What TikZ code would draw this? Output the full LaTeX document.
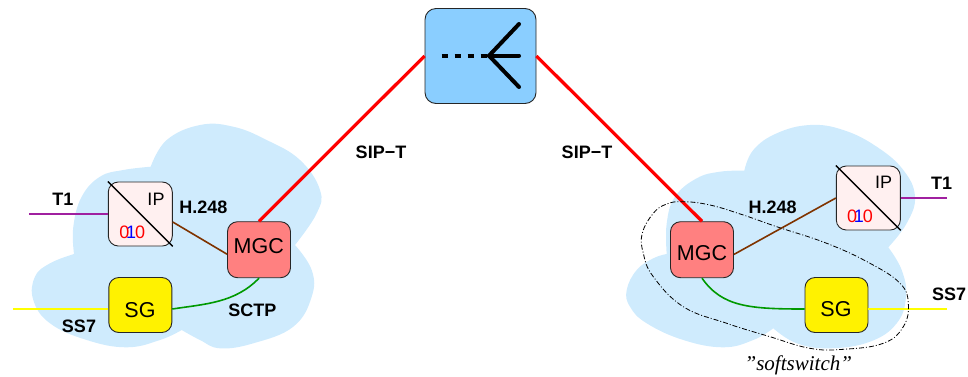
\documentclass[tikz,border=0pt]{standalone}
\usepackage{fontspec}
\setmainfont{Liberation Sans}
\newfontfamily\serifit[Ligatures=TeX]{Liberation Serif}
\usetikzlibrary{calc}
\definecolor{cloudc}{HTML}{CFEBFD}
\definecolor{topc}{HTML}{8ACEFF}
\definecolor{mgcc}{HTML}{FF8080}
\definecolor{ipc}{HTML}{FFF0F0}
\definecolor{h248c}{HTML}{7F3300}
\definecolor{sctpc}{HTML}{009900}
\definecolor{t1c}{HTML}{A020A0}
\definecolor{ss7c}{HTML}{FFFF00}
\tikzset{
  x=1pt,y=-1pt,
  cloud/.style={fill=cloudc,draw=none},
  lobe/.style={smooth,tension=0.7},
  box/.style={draw=black!85,line width=0.9pt,rounded corners=10pt,inner sep=0pt,minimum width=#1},
  mgc/.style={box=63pt,minimum height=56pt,fill=mgcc},
  sgbox/.style={box=63pt,minimum height=55pt,fill=yellow},
  ipbox/.style={box=64pt,minimum height=64pt,fill=ipc},
  proto/.style={font=\fontsize{18}{20}\selectfont\bfseries,inner sep=0pt},
  big/.style={font=\fontsize{21.5}{24}\selectfont,inner sep=0pt},
  ipt/.style={font=\fontsize{18}{20}\selectfont,inner sep=0pt},
  bits/.style={font=\fontsize{18}{20}\selectfont,inner sep=0pt},
  sip/.style={red,line width=3.2pt},
  h248w/.style={h248c,line width=1.6pt},
  sctpw/.style={sctpc,line width=1.6pt},
  t1w/.style={t1c,line width=1.6pt},
  ss7w/.style={ss7c,line width=1.6pt},
  diag/.style={black,line width=1.4pt},
  fanw/.style={black,line width=4pt,line cap=round},
}
\newcommand{\zeroten}{\makebox[0pt][l]{\hspace{0.556em}\hspace{-0.18em}\textcolor{blue}{1}}\textcolor{red}{0\hspace{-0.18em}\phantom{1}\hspace{-0.05em}0}}
\begin{document}
\begin{tikzpicture}
\useasboundingbox (0,0) rectangle (968,376);
% clouds
\fill[cloud]
  plot[lobe] coordinates {(150.7,166.7)(166.7,140)(200,125)(233.3,126.7)(266.7,140)(300,160)(320,190)(316.7,213.3)(295,245)}
  -- plot[lobe] coordinates {(295,245)(311.7,270)(311.7,296.7)(293.3,326.7)(253.3,343.3)(220,348.3)(200,340)(181.7,330)}
  -- plot[lobe] coordinates {(181.7,330)(160,340)(126.7,347.3)(86.7,340)(50,323.3)(33.3,300)(35,276.7)(50,263.3)(74,254)}
  -- plot[lobe] coordinates {(74,254)(73.3,226.7)(81.7,196.7)(100,176.7)(123.3,170)(150.7,166.7)}
  -- cycle;
\fill[cloud]
  plot[lobe] coordinates {(744.3,170.7)(753.3,150)(776.7,133.3)(810,125)(843.3,130)(876.7,146.7)(903.3,170)(915,196.7)(906.7,223.3)(888.3,247.3)}
  -- plot[lobe] coordinates {(888.3,247.3)(901.7,270)(906,296.7)(896.7,323.3)(870,341.7)(830,348.3)(796.7,343.3)(773.3,328.3)}
  -- plot[lobe] coordinates {(773.3,328.3)(753.3,340)(723.3,347.3)(683.3,340)(646.7,323.3)(630,306.7)(626.7,290)(636.7,270)(653.3,258.3)(666.7,254)}
  -- plot[lobe] coordinates {(666.7,254)(666.7,223.3)(675,196.7)(696.7,178.3)(720,171.7)(744.3,170.7)}
  -- cycle;
% nodes
\node[draw=black!85,fill=topc,line width=0.9pt,rounded corners=11pt,inner sep=0pt,minimum width=111pt,minimum height=95pt] (top) at (480.5,56) {};
\coordinate (fan) at (489,55.7);
\coordinate (fantail) at (441.5,55.7);
\coordinate (fana) at (519,24);
\coordinate (fanb) at (519,55.7);
\coordinate (fanc) at (519,87);
\node[ipbox] (ipl) at (140.3,214) {};
\node[mgc] (mgcl) at (259,249.7) {};
\node[sgbox] (sgl) at (140.3,305) {};
\node[ipbox] (ipr) at (868.3,198) {};
\node[mgc] (mgcr) at (702,249.7) {};
\node[sgbox] (sgr) at (836.5,305) {};
\coordinate (t1l) at (29.3,214);
\coordinate (ss7l) at (13.3,309);
\coordinate (t1r) at (947,198);
\coordinate (ss7r) at (947,309);
% fan symbol
\draw[black,line width=4pt,dash pattern=on 6pt off 7pt] (fantail) -- (fan);
\draw[fanw] (fana) -- (fan) -- (fanc);
\draw[fanw] (fan) -- (fanb);
% connectors
\draw[sip] (top.west) -- (mgcl.north);
\draw[sip] (top.east) -- (mgcr.north);
\draw[h248w] ([yshift=-8pt]ipl.east) -- ([yshift=-4.5pt]mgcl.west);
\draw[h248w] ([yshift=-4.7pt]mgcr.east) -- (ipr.west);
\draw[sctpw] ([yshift=-4pt]sgl.east) .. controls (205,304) and (235,303) .. (mgcl.south);
\draw[sctpw] (mgcr.south) .. controls (722,307) and (750,309) .. ([yshift=-4pt]sgr.west);
\draw[t1w] (t1l) -- (ipl.west);
\draw[t1w] (ipr.east) -- (t1r);
\draw[ss7w] (ss7l) -- ([yshift=-4pt]sgl.west);
\draw[ss7w] ([yshift=-4pt]sgr.east) -- (ss7r);
\draw[diag] (ipl.north west) -- (ipl.south east);
\draw[diag] (ipr.north west) -- (ipr.south east);
% softswitch outline
\draw[black,line width=0.8pt,dash pattern=on 5pt off 2pt on 1pt off 2pt]
  plot[smooth cycle,tension=0.7] coordinates {(683.3,201.7)(710,205)(743.3,215)(776.7,226.7)(826.7,243.3)(870,263.3)(900,283.3)(908.3,303.3)(903.3,326.7)(883.3,343.3)(843.3,349.3)(810,348.3)(770,336.7)(726.7,323.3)(683.3,306.7)(653.3,276.7)(643.3,253.3)(642.3,233.3)(653.3,213.3)(666.7,204)};
% labels in boxes
\node[big] (mgcltxt) at (258.7,246) {MGC};
\node[big] (mgcrtxt) at (702,253.3) {MGC};
\node[big] (sgltxt) at (140,310) {SG};
\node[big] (sgrtxt) at (836,309.5) {SG};
\node[ipt] (ipltxt) at (156,199.3) {IP};
\node[ipt] (iprtxt) at (883.7,182.7) {IP};
\node[bits] (bitsl) at (132.3,232) {\zeroten};
\node[bits] (bitsr) at (860,216) {\zeroten};
% protocol labels
\node[proto] (a1) at (63,199.5) {T1};
\node[proto] (a2) at (203.3,207.3) {H.248};
\node[proto] (a3) at (79,326.7) {SS7};
\node[proto] (a4) at (252.3,310.7) {SCTP};
\node[proto] (a5) at (381,152) {SIP−T};
\node[proto] (a6) at (587,152) {SIP−T};
\node[proto] (a7) at (941.7,183.3) {T1};
\node[proto] (a8) at (772.7,207.3) {H.248};
\node[proto] (a9) at (949,294.3) {SS7};
\node[inner sep=0pt,font=\fontsize{21}{24}\selectfont\serifit\itshape] (soft) at (798.3,365) {"softswitch"};
\end{tikzpicture}
\end{document}
